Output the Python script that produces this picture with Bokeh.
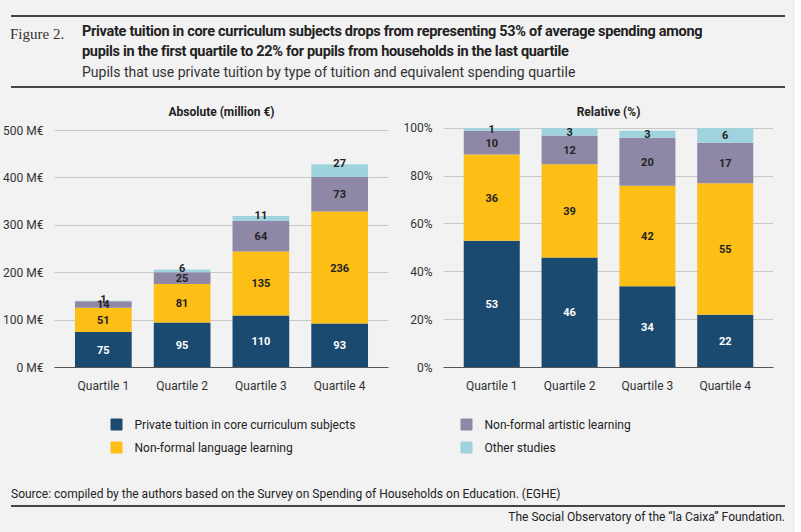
from bokeh.plotting import figure
from bokeh.models import Div, ColumnDataSource, FactorRange
from bokeh.layouts import column, row
from bokeh.embed import file_html
from bokeh.resources import INLINE
from bokeh.core.properties import value

quartiles = ["Quartile 1", "Quartile 2", "Quartile 3", "Quartile 4"]
series = ["Private tuition in core curriculum subjects", "Non-formal language learning",
          "Non-formal artistic learning", "Other studies"]
abs_core = [75, 95, 110, 93]
abs_lang = [51, 81, 135, 236]
abs_art = [14, 25, 64, 73]
abs_oth = [1, 6, 11, 27]
rel_core = [53, 46, 34, 22]
rel_lang = [36, 39, 42, 55]
rel_art = [10, 12, 20, 17]
rel_oth = [1, 3, 3, 6]
abs_ticks = [0, 100, 200, 300, 400, 500]
rel_ticks = [0, 20, 40, 60, 80, 100]

colors = ["#1b4a70", "#fdbe16", "#8f87a6", "#9fd4df"]
BG = "#f2f2f2"
FONT = "Roboto"

def make(title, vals, ymax, ticks, fmt, w, left, other_top):
    keys = ["core", "lang", "art", "oth"]
    data = dict(q=quartiles)
    for k, v in zip(keys, vals):
        data[k] = v
    src = ColumnDataSource(data)
    p = figure(x_range=FactorRange(*quartiles), y_range=(0, ymax), width=w, height=300,
               output_backend="svg", toolbar_location=None, title=title,
               min_border_left=left, min_border_right=12, min_border_top=10, min_border_bottom=30)
    p.background_fill_color = BG
    p.border_fill_color = BG
    p.outline_line_color = None
    p.title.align = "center"
    p.title.text_font = FONT
    p.title.text_font_size = "12px"
    p.title.text_font_style = "bold"
    p.title.text_color = "#222"
    p.title.offset = 0
    p.vbar_stack(keys, x="q", width=0.72, color=colors, source=src, line_color=None)
    p.x_range.range_padding = 0.06
    p.xgrid.grid_line_color = None
    p.ygrid.grid_line_color = "#c8c8c8"
    p.yaxis.ticker = ticks
    p.yaxis.major_label_overrides = {t: fmt(t) for t in ticks}
    for ax in (p.xaxis[0], p.yaxis[0]):
        ax.major_tick_line_color = None
        ax.minor_tick_line_color = None
        ax.major_label_text_font = FONT
        ax.major_label_text_font_size = "12px"
        ax.major_label_text_color = "#333"
    p.yaxis.axis_line_color = None
    p.xaxis.axis_line_color = "#555"
    lx, ly, lt, lc = [], [], [], []
    for i, q in enumerate(quartiles):
        base = 0
        for j in range(len(vals)):
            v = vals[j][i]
            mid = base + v / 2
            if j == 3 and other_top:
                mid = base + v + ymax * 0.005
            lx.append(q); ly.append(mid); lt.append(str(v))
            lc.append("white" if j == 0 else "#222")
            base += v
    ls = ColumnDataSource(dict(x=lx, y=ly, t=lt, c=lc))
    p.text(x="x", y="y", text="t", text_color="c", source=ls, text_align="center",
           text_baseline="middle", text_font=value(FONT), text_font_size="11px",
           text_font_style="bold")
    return p

p1 = make("Absolute (million €)", [abs_core, abs_lang, abs_art, abs_oth], 515, abs_ticks,
          lambda t: f"{t} M€", 400, 54, True)
p2 = make("Relative (%)", [rel_core, rel_lang, rel_art, rel_oth], 102, rel_ticks,
          lambda t: f"{t}%", 385, 40, False)

lg = figure(width=785, height=65, x_range=(0, 785), y_range=(65, 0), output_backend="svg",
            toolbar_location=None, min_border=0)
lg.axis.visible = False
lg.grid.visible = False
lg.outline_line_color = None
lg.background_fill_color = BG
lg.border_fill_color = BG
lsrc = ColumnDataSource(dict(x=[116, 116, 466, 466], y=[27, 50, 27, 50],
                             tx=[134, 134, 484, 484],
                             c=[colors[0], colors[1], colors[2], colors[3]],
                             t=[series[0], series[1], series[2], series[3]]))
lg.rect(x="x", y="y", width=11, height=11, color="c", source=lsrc)
lg.text(x="tx", y="y", text="t", source=lsrc, text_baseline="middle", text_font=value(FONT),
        text_font_size="12px", text_color="#222")

header = Div(width=785, height=87, styles={"background": BG}, text=f"""
<div style="font-family:{FONT};position:relative;width:785px;height:87px;">
<div style="position:absolute;left:6px;top:10px;width:774px;border-top:2px solid #444;"></div>
<div style="position:absolute;left:5px;top:19px;font-family:'Liberation Serif';font-size:15px;color:#333;">Figure 2.</div>
<div style="position:absolute;left:77px;top:17px;font-size:14.5px;font-weight:bold;color:#222;line-height:20px;letter-spacing:-0.3px;">Private tuition in core curriculum subjects drops from representing 53% of average spending among<br>pupils in the first quartile to 22% for pupils from households in the last quartile</div>
<div style="position:absolute;left:77px;top:57px;font-size:14px;color:#333;">Pupils that use private tuition by type of tuition and equivalent spending quartile</div>
<div style="position:absolute;left:6px;top:81px;width:774px;border-top:2px solid #444;"></div>
</div>""")

footer = Div(width=785, height=60, styles={"background": BG}, text=f"""
<div style="font-family:{FONT};position:relative;width:785px;height:60px;font-size:12px;color:#222;">
<div style="position:absolute;left:6px;top:19px;">Source: compiled by the authors based on the Survey on Spending of Households on Education. (EGHE)</div>
<div style="position:absolute;left:6px;top:38px;width:774px;border-top:2px solid #444;"></div>
<div style="position:absolute;right:5px;top:42px;">The Social Observatory of the “la Caixa” Foundation.</div>
</div>""")

layout = column(header, row(p1, p2), lg, footer, spacing=0, styles={"background": BG})
html = file_html(layout, INLINE)
html = html.replace("<body>", f'<body style="background:{BG};margin:8px;">', 1)
open("out.html", "w").write(html)
